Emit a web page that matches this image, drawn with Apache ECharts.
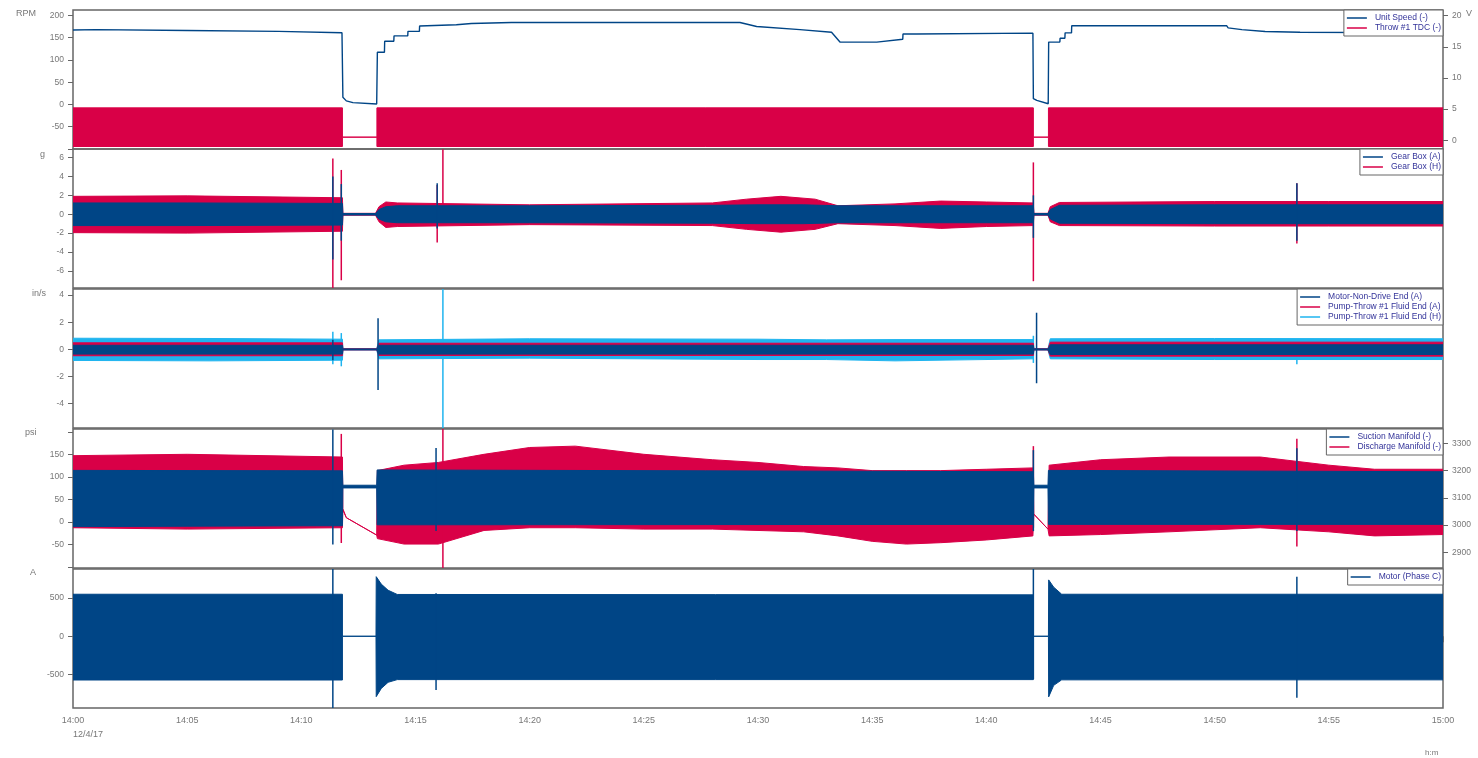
<!DOCTYPE html>
<html>
<head>
<meta charset="utf-8">
<script src="https://cdn.jsdelivr.net/npm/echarts@6/dist/echarts.min.js"></script>
<style>
  html, body { margin: 0; padding: 0; background: #ffffff; }
  #chart { width: 1478px; height: 758px; }
</style>
</head>
<body>
<div id="chart"></div>
<script>
// ---- time axis (minutes after 14:00 on 12/4/17) ----
const timeTicks = [0, 5, 10, 15, 20, 25, 30, 35, 40, 45, 50, 55, 60];
const timeLabels = ['14:00', '14:05', '14:10', '14:15', '14:20', '14:25', '14:30', '14:35', '14:40', '14:45', '14:50', '14:55', '15:00'];
const dateLabel = '12/4/17';

// ---- panel 1: Unit Speed (RPM) and Throw #1 TDC (V) ----
const speedT = [0, 1, 5, 9, 11.78, 11.82, 11.97, 12.26, 13.3, 13.33, 13.64, 13.65, 14.05, 14.06, 14.66, 14.67, 15.17, 15.18, 16.79, 17.45, 19.2, 29.21, 29.94, 31.84, 33.22, 33.59, 35.2, 36.34, 36.35, 36.94, 36.95, 42.04, 42.06, 42.21, 42.71, 42.73, 43.22, 43.23, 43.44, 43.45, 43.73, 43.74, 50.53, 50.59, 51.19, 52.21, 53.74, 60];
const speedV = [167, 168, 166, 164, 161, 16, 8, 4, 1, 117, 117, 142, 142, 154, 154, 164, 164, 176, 179, 181.6, 184, 184, 175, 168, 162, 140, 140, 146.5, 158, 158, 161.5, 160, 13, 9, 1.5, 140, 140, 148.6, 148.6, 160.7, 160.7, 176.5, 176.5, 172, 168, 163.7, 162, 160.7];

const tdcT  = [0, 11.8, 11.8, 13.31, 13.31, 42.06, 42.06, 42.72, 42.72, 60];
const tdcHi = [5.2, 5.2, 0.5, 0.5, 5.2, 5.2, 0.5, 0.5, 5.2, 5.2];
const tdcLo = [-1.0, -1.0, 0.5, 0.5, -1.0, -1.0, 0.5, 0.5, -1.0, -1.0];

// ---- panel 2: Gear Box (g) ----
const gbAT  = [0, 5, 11.8, 11.82, 13.25, 13.4, 13.7, 14.2, 20, 28, 30, 32, 33.5, 36, 40, 42.06, 42.08, 42.7, 42.8, 43.2, 50, 55, 60];
const gbAHi = [1.2, 1.2, 1.15, 0.08, 0.08, 0.5, 0.8, 0.9, 0.9, 0.95, 1.0, 1.0, 0.9, 0.9, 0.9, 0.9, 0.08, 0.08, 0.5, 0.95, 1.0, 1.0, 1.0];
const gbALo = [-1.2, -1.2, -1.15, -0.08, -0.08, -0.5, -0.8, -0.9, -0.9, -0.95, -1.0, -1.0, -0.9, -0.9, -0.9, -0.9, -0.08, -0.08, -0.5, -0.95, -1.0, -1.0, -1.0];
const gbASpT  = [11.38, 11.75, 15.95, 42.06, 53.6];
const gbASpHi = [4.0, 3.2, 3.3, 2.0, 3.3];
const gbASpLo = [-4.8, -2.8, -1.5, -2.5, -2.8];

const gbHT  = [0, 5, 11.8, 11.82, 13.25, 13.4, 13.7, 14.2, 20, 28, 29.5, 31, 32.5, 33.5, 36, 38, 40, 42.06, 42.08, 42.7, 42.8, 43.2, 50, 55, 60];
const gbHHi = [1.9, 1.95, 1.75, 0.1, 0.1, 0.8, 1.3, 1.2, 1.0, 1.2, 1.6, 1.9, 1.6, 0.9, 1.1, 1.4, 1.3, 1.2, 0.1, 0.1, 0.8, 1.25, 1.35, 1.35, 1.35];
const gbHLo = [-1.95, -2.0, -1.8, -0.1, -0.1, -0.8, -1.4, -1.3, -1.1, -1.2, -1.6, -1.9, -1.6, -1.0, -1.2, -1.5, -1.3, -1.2, -0.1, -0.1, -0.8, -1.2, -1.25, -1.25, -1.25];
const gbHSpT  = [11.38, 11.75, 15.95, 16.2, 42.06, 53.6];
const gbHSpHi = [5.9, 4.7, 3.1, 6.9, 5.5, 3.3];
const gbHSpLo = [-7.9, -7.0, -3.0, -1.0, -7.1, -3.1];

// ---- panel 3: vibration velocity (in/s) ----
const ndeT  = [0, 11.8, 11.82, 13.3, 13.4, 42.06, 42.08, 42.7, 42.8, 60];
const ndeHi = [0.3, 0.3, 0.03, 0.03, 0.3, 0.3, 0.03, 0.03, 0.34, 0.34];
const ndeLo = [-0.35, -0.35, -0.03, -0.03, -0.35, -0.35, -0.03, -0.03, -0.38, -0.38];
const ndeSpT  = [11.38, 13.36, 42.2];
const ndeSpHi = [0.7, 2.3, 2.7];
const ndeSpLo = [-0.8, -3.0, -2.5];

const pfaT  = [0, 11.8, 11.82, 13.3, 13.4, 42.06, 42.08, 42.7, 42.8, 60];
const pfaHi = [0.48, 0.48, 0.04, 0.04, 0.45, 0.45, 0.04, 0.04, 0.53, 0.53];
const pfaLo = [-0.47, -0.47, -0.04, -0.04, -0.45, -0.45, -0.04, -0.04, -0.5, -0.5];

const pfhT  = [0, 6, 11.8, 11.82, 13.3, 13.4, 20, 30, 33, 36, 42.06, 42.08, 42.7, 42.8, 50, 60];
const pfhHi = [0.82, 0.8, 0.75, 0.05, 0.05, 0.7, 0.78, 0.75, 0.7, 0.72, 0.72, 0.05, 0.05, 0.78, 0.8, 0.78];
const pfhLo = [-0.82, -0.85, -0.8, -0.05, -0.05, -0.7, -0.65, -0.75, -0.75, -0.85, -0.7, -0.05, -0.05, -0.7, -0.75, -0.75];
const pfhSpT  = [11.38, 11.75, 16.2, 42.06, 53.6];
const pfhSpHi = [1.3, 1.2, 4.45, 1.0, 0.5];
const pfhSpLo = [-1.1, -1.25, -5.8, -1.0, -1.1];

// ---- panel 4: Suction (psi, left) and Discharge (psi, right) ----
const sucT  = [0, 11.8, 11.82, 13.3, 13.32, 42.06, 42.08, 42.7, 42.72, 60];
const sucHi = [115, 114, 82, 82, 116, 112, 82, 82, 115, 112];
const sucLo = [-10, -8, 76, 76, -6, -5, 76, 76, -5, -5];
const sucSpT  = [11.38, 15.9, 42.06, 53.6];
const sucSpHi = [206, 165, 160, 164];
const sucSpLo = [-50, -20, -20, -20];

const disT  = [0, 5, 11.8, 11.82, 11.97, 13.3, 13.33, 14.5, 16, 18, 20, 22, 25, 28, 30, 32, 33.5, 35, 36.5, 38, 40, 42.04, 42.08, 42.7, 42.75, 45, 48, 52, 55, 57, 60];
const disHi = [3255, 3260, 3250, 3060, 3027, 2963, 3200, 3220, 3230, 3260, 3285, 3290, 3260, 3240, 3230, 3215, 3210, 3200, 3200, 3200, 3205, 3210, 3040, 2985, 3220, 3240, 3250, 3250, 3220, 3205, 3205];
const disLo = [2990, 2985, 2990, 3055, 3027, 2963, 2950, 2930, 2930, 2980, 2990, 2990, 2985, 2985, 2980, 2975, 2960, 2940, 2930, 2935, 2945, 2960, 3040, 2985, 2960, 2965, 2975, 2990, 2975, 2960, 2965];
const disSpT  = [11.75, 16.2, 42.06, 53.6];
const disSpHi = [3335, 3353, 3290, 3317];
const disSpLo = [2934, 2842, 2990, 2921];

// ---- panel 5: Motor current (A) ----
const motT  = [0, 11.8, 11.8, 13.27, 13.28, 13.5, 13.8, 14.2, 42.06, 42.06, 42.72, 42.73, 42.95, 43.3, 60];
const motHi = [548, 548, 0, 0, 777, 680, 600, 545, 540, 0, 0, 735, 640, 548, 548];
const motLo = [-570, -570, 0, 0, -787, -680, -600, -565, -565, 0, 0, -790, -640, -568, -568];
const motSpT  = [11.38, 15.9, 42.06, 53.6];
const motSpHi = [877, 560, 877, 777];
const motSpLo = [-935, -700, -560, -800];

const BLUE = '#004586';
const RED = '#d90047';
const CYAN = '#1fb4ef';
const FONT = '"Liberation Sans", Arial, sans-serif';

// filled min/max envelope of a densely sampled signal, plus isolated transients
function envelope(name, color, xi, yi, t, hi, lo, spT, spHi, spLo) {
  return {
    name: name, type: 'custom', xAxisIndex: xi, yAxisIndex: yi, clip: true,
    itemStyle: { color: color },
    data: [[t[0], lo[0]]],
    encode: { x: 0, y: 1 },
    silent: true,
    renderItem: function (params, api) {
      const pts = [];
      for (let i = 0; i < t.length; i++) pts.push(api.coord([t[i], hi[i]]));
      for (let i = t.length - 1; i >= 0; i--) pts.push(api.coord([t[i], lo[i]]));
      const children = [{
        type: 'polygon', shape: { points: pts },
        style: { fill: color, stroke: color, lineWidth: 1 }
      }];
      (spT || []).forEach(function (s, k) {
        const a = api.coord([s, spHi[k]]);
        const b = api.coord([s, spLo[k]]);
        children.push({ type: 'line', shape: { x1: a[0], y1: a[1], x2: b[0], y2: b[1] },
          style: { stroke: color, lineWidth: 1.5 } });
      });
      return { type: 'group', children: children };
    }
  };
}

const tops = [10, 149, 289, 429, 569];
const H = 139;
const grids = tops.map(function (tp) {
  return { left: 73, right: 35, top: tp, height: H, show: true,
    borderColor: '#666', borderWidth: 1.5, backgroundColor: 'rgba(0,0,0,0)' };
});

const xAxes = tops.map(function (tp, i) {
  const last = i === tops.length - 1;
  return {
    type: 'value', gridIndex: i, min: 0, max: 60, interval: 5,
    show: last,
    axisLine: { show: false },
    splitLine: { show: false },
    axisTick: { show: last, length: 6, lineStyle: { color: '#666', width: 1 } },
    axisLabel: { show: last, color: '#777', fontSize: 9, fontFamily: FONT, margin: 8,
      formatter: function (v) { return timeLabels[timeTicks.indexOf(v)] || ''; } }
  };
});

function yAxis(grid, min, max, tickVals, labelVals, pos) {
  return {
    type: 'value', gridIndex: grid, min: min, max: max, position: pos || 'left',
    axisLine: { show: false }, splitLine: { show: false },
    axisTick: { show: true, length: 5, customValues: tickVals, lineStyle: { color: '#666', width: 1 } },
    axisLabel: { show: true, customValues: labelVals, color: '#777', fontSize: 8.5, fontFamily: FONT, margin: 9,
      formatter: function (v) { return String(v); } }
  };
}

const yAxes = [
  yAxis(0, -100, 212, [-100, -50, 0, 50, 100, 150, 200], [-50, 0, 50, 100, 150, 200]),
  yAxis(0, -1.4, 20.9, [0, 5, 10, 15, 20], [0, 5, 10, 15, 20], 'right'),
  yAxis(1, -7.82, 6.92, [-6, -4, -2, 0, 2, 4, 6], [-6, -4, -2, 0, 2, 4, 6]),
  yAxis(2, -5.8, 4.45, [-4, -2, 0, 2, 4], [-4, -2, 0, 2, 4]),
  yAxis(3, -102, 207, [-100, -50, 0, 50, 100, 150, 200], [-50, 0, 50, 100, 150]),
  yAxis(3, 2842, 3353, [2900, 3000, 3100, 3200, 3300], [2900, 3000, 3100, 3200, 3300], 'right'),
  yAxis(4, -935, 877, [-500, 0, 500], [-500, 0, 500])
];

function legend(names, tp) {
  return {
    data: names, right: 35, top: tp, orient: 'vertical', align: 'left',
    icon: 'rect', itemWidth: 20, itemHeight: 1.5, itemGap: 0,
    padding: [3, 2, 3, 3], backgroundColor: '#fff', borderColor: '#666', borderWidth: 1,
    selectedMode: false,
    textStyle: { color: '#333399', fontSize: 8.5, fontFamily: FONT, lineHeight: 10, padding: [0, 0, 0, 3] }
  };
}

const option = {
  animation: false,
  backgroundColor: '#ffffff',
  grid: grids,
  xAxis: xAxes,
  yAxis: yAxes,
  legend: [
    legend(['Unit Speed (-)', 'Throw #1 TDC (-)'], 10),
    legend(['Gear Box (A)', 'Gear Box (H)'], 149),
    legend(['Motor-Non-Drive End (A)', 'Pump-Throw #1 Fluid End (A)', 'Pump-Throw #1 Fluid End (H)'], 289),
    legend(['Suction Manifold (-)', 'Discharge Manifold (-)'], 429),
    legend(['Motor (Phase C)'], 569)
  ],
  series: [
    envelope('Throw #1 TDC (-)', RED, 0, 1, tdcT, tdcHi, tdcLo),
    { name: 'Unit Speed (-)', type: 'line', xAxisIndex: 0, yAxisIndex: 0, showSymbol: false, silent: true,
      itemStyle: { color: BLUE }, lineStyle: { color: BLUE, width: 1.4 },
      data: speedT.map(function (t, i) { return [t, speedV[i]]; }) },

    envelope('Gear Box (H)', RED, 1, 2, gbHT, gbHHi, gbHLo, gbHSpT, gbHSpHi, gbHSpLo),
    envelope('Gear Box (A)', BLUE, 1, 2, gbAT, gbAHi, gbALo, gbASpT, gbASpHi, gbASpLo),

    envelope('Pump-Throw #1 Fluid End (H)', CYAN, 2, 3, pfhT, pfhHi, pfhLo, pfhSpT, pfhSpHi, pfhSpLo),
    envelope('Pump-Throw #1 Fluid End (A)', RED, 2, 3, pfaT, pfaHi, pfaLo),
    envelope('Motor-Non-Drive End (A)', BLUE, 2, 3, ndeT, ndeHi, ndeLo, ndeSpT, ndeSpHi, ndeSpLo),

    envelope('Discharge Manifold (-)', RED, 3, 5, disT, disHi, disLo, disSpT, disSpHi, disSpLo),
    envelope('Suction Manifold (-)', BLUE, 3, 4, sucT, sucHi, sucLo, sucSpT, sucSpHi, sucSpLo),

    envelope('Motor (Phase C)', BLUE, 4, 6, motT, motHi, motLo, motSpT, motSpHi, motSpLo)
  ],
  graphic: [
    { type: 'text', left: 16, top: 9, style: { text: 'RPM', fill: '#777', font: '9px ' + FONT } },
    { type: 'text', left: 1466, top: 9, style: { text: 'V', fill: '#777', font: '9px ' + FONT } },
    { type: 'text', left: 40, top: 150, style: { text: 'g', fill: '#777', font: '9px ' + FONT } },
    { type: 'text', left: 32, top: 289, style: { text: 'in/s', fill: '#777', font: '9px ' + FONT } },
    { type: 'text', left: 25, top: 428, style: { text: 'psi', fill: '#777', font: '9px ' + FONT } },
    { type: 'text', left: 30, top: 568, style: { text: 'A', fill: '#777', font: '9px ' + FONT } },
    { type: 'text', left: 73, top: 730, style: { text: dateLabel, fill: '#777', font: '9px ' + FONT } },
    { type: 'text', left: 1425, top: 749, style: { text: 'h:m', fill: '#777', font: '8px ' + FONT } }
  ]
};

const chart = echarts.init(document.getElementById('chart'), null, { renderer: 'canvas' });
chart.setOption(option);
</script>
</body>
</html>
